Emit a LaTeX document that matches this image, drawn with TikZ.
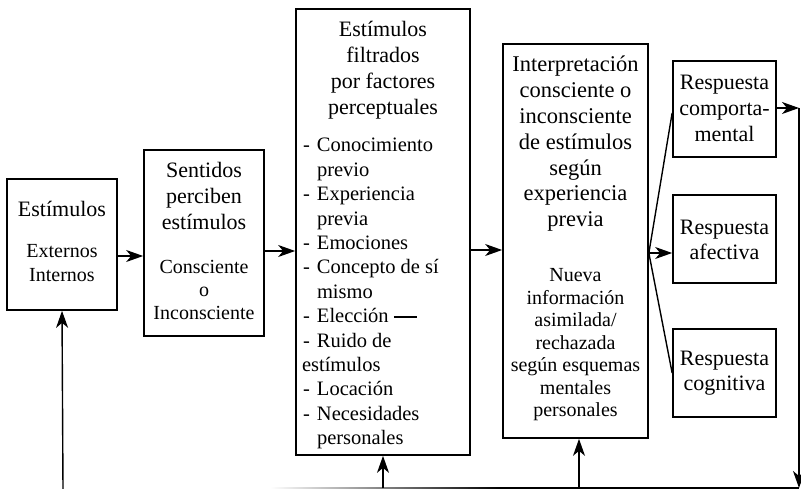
\documentclass[tikz,border=0pt]{standalone}
\usepackage{fontspec}
\setmainfont{Liberation Serif}
\usetikzlibrary{arrows.meta}
\tikzset{
  box/.style={draw, line width=1.7pt, inner sep=0pt},
  conn/.style={line width=1.4pt},
  arr/.style={conn, arrows={-Stealth[length=17pt,width=12pt,inset=5pt]}},
  txt/.style={anchor=base, inner sep=0pt, outer sep=0pt},
}
\newcommand{\hdr}[2]{\parbox[t]{#1}{\centering\fontsize{22}{26}\selectfont #2}}
\newcommand{\smltxt}[4]{\parbox[t]{#1}{\centering\fontsize{#2}{#3}\selectfont #4}}
\begin{document}
\begin{tikzpicture}[x=1pt,y=-1pt]
\useasboundingbox (0,0) rectangle (801,489);
% boxes
\node[box, minimum width=110pt, minimum height=131pt] (b1) at (62,244.5) {};
\node[box, minimum width=120pt, minimum height=186pt] (b2) at (204,243) {};
\node[box, minimum width=174pt, minimum height=446pt] (b3) at (383,232) {};
\node[box, minimum width=145pt, minimum height=394pt] (b4) at (575.5,241) {};
\node[box, minimum width=103pt, minimum height=96pt] (b5) at (724.5,109) {};
\node[box, minimum width=103pt, minimum height=88pt] (b6) at (724.5,239) {};
\node[box, minimum width=103pt, minimum height=88pt] (b7) at (724.5,373) {};
% texts box 1
\node[txt] (t1a) at (62,217) {\hdr{108pt}{Estímulos}};
\node[txt] (t1b) at (62,258) {\smltxt{108pt}{20}{24}{Externos\\Internos}};
% box 2
\node[txt] (t2a) at (204,178) {\hdr{118pt}{Sentidos\\perciben\\estímulos}};
\node[txt] (t2b) at (204,273) {\smltxt{118pt}{20}{23.5}{Consciente\\o\\Inconsciente}};
% box 3
\node[txt] (t3a) at (383,37) {\hdr{172pt}{Estímulos\\filtrados\\por factores\\perceptuales}};
\node[txt, anchor=base west] (t3b) at (302,152) {\parbox[t]{166pt}{\raggedright\fontsize{20.5}{24.4}\selectfont
\makebox[15pt][l]{\hspace{1pt}-}Conocimiento\\
\hspace*{15pt}previo\\
\makebox[15pt][l]{\hspace{1pt}-}Experiencia\\
\hspace*{15pt}previa\\
\makebox[15pt][l]{\hspace{1pt}-}Emociones\\
\makebox[15pt][l]{\hspace{1pt}-}Concepto de sí\\
\hspace*{15pt}mismo\\
\makebox[15pt][l]{\hspace{1pt}-}Elección \rule[0.25em]{23pt}{1.5pt}\\
\makebox[15pt][l]{\hspace{1pt}-}Ruido de\\
estímulos\\
\makebox[15pt][l]{\hspace{1pt}-}Locación\\
\makebox[15pt][l]{\hspace{1pt}-}Necesidades\\
\hspace*{15pt}personales}};
% box 4
\node[txt] (t4a) at (575.5,72) {\smltxt{143pt}{22.5}{25.8}{Interpretación\\consciente o\\inconsciente\\de estímulos\\según\\experiencia\\previa}};
\node[txt] (t4b) at (575.5,282) {\smltxt{143pt}{20}{22.5}{Nueva\\información\\asimilada/\\rechazada\\según esquemas\\mentales\\personales}};
% boxes 5-7
\node[txt] (t5) at (724.5,90) {\smltxt{101pt}{22}{26}{Respuesta\\comporta-\\mental}};
\node[txt] (t6) at (724.5,235) {\smltxt{101pt}{22}{25}{Respuesta\\afectiva}};
\node[txt] (t7) at (724.5,365) {\smltxt{101pt}{22}{25}{Respuesta\\cognitiva}};
% forward connectors
\draw[arr] (b1.east |- 0,256) -- (b2.west |- 0,256);
\draw[arr] (b2.east |- 0,251) -- (b3.west |- 0,251);
\draw[arr] (b3.east |- 0,250) -- (b4.west |- 0,250);
\coordinate (fan) at (b4.east |- 0,253);
\draw[arr] (fan) -- (b6.west |- 0,253);
\draw[conn] (fan) -- (b5.west |- 0,113);
\draw[conn] (fan) -- (b7.west |- 0,373);
% feedback loop
\coordinate (rt) at (799,108);
\coordinate (rb) at (799,488);
\coordinate (lb) at (63,489);
\coordinate (fadeend) at (500,488);
\draw[arr] (b5.east |- 0,108) -- (rt);
\draw[arr] (rt) -- (rb);
\draw[conn] (rb) -- (fadeend);
\shade[left color=white, right color=black] (270,487.3) rectangle (500,488.7);
\draw[arr] (b3.south |- 0,488) -- (b3.south);
\draw[arr] (b4.south -| 579,0) ++(0,50) -- (b4.south -| 579,0);
\draw[arr] (lb) -- (b1.south);
\end{tikzpicture}
\end{document}
